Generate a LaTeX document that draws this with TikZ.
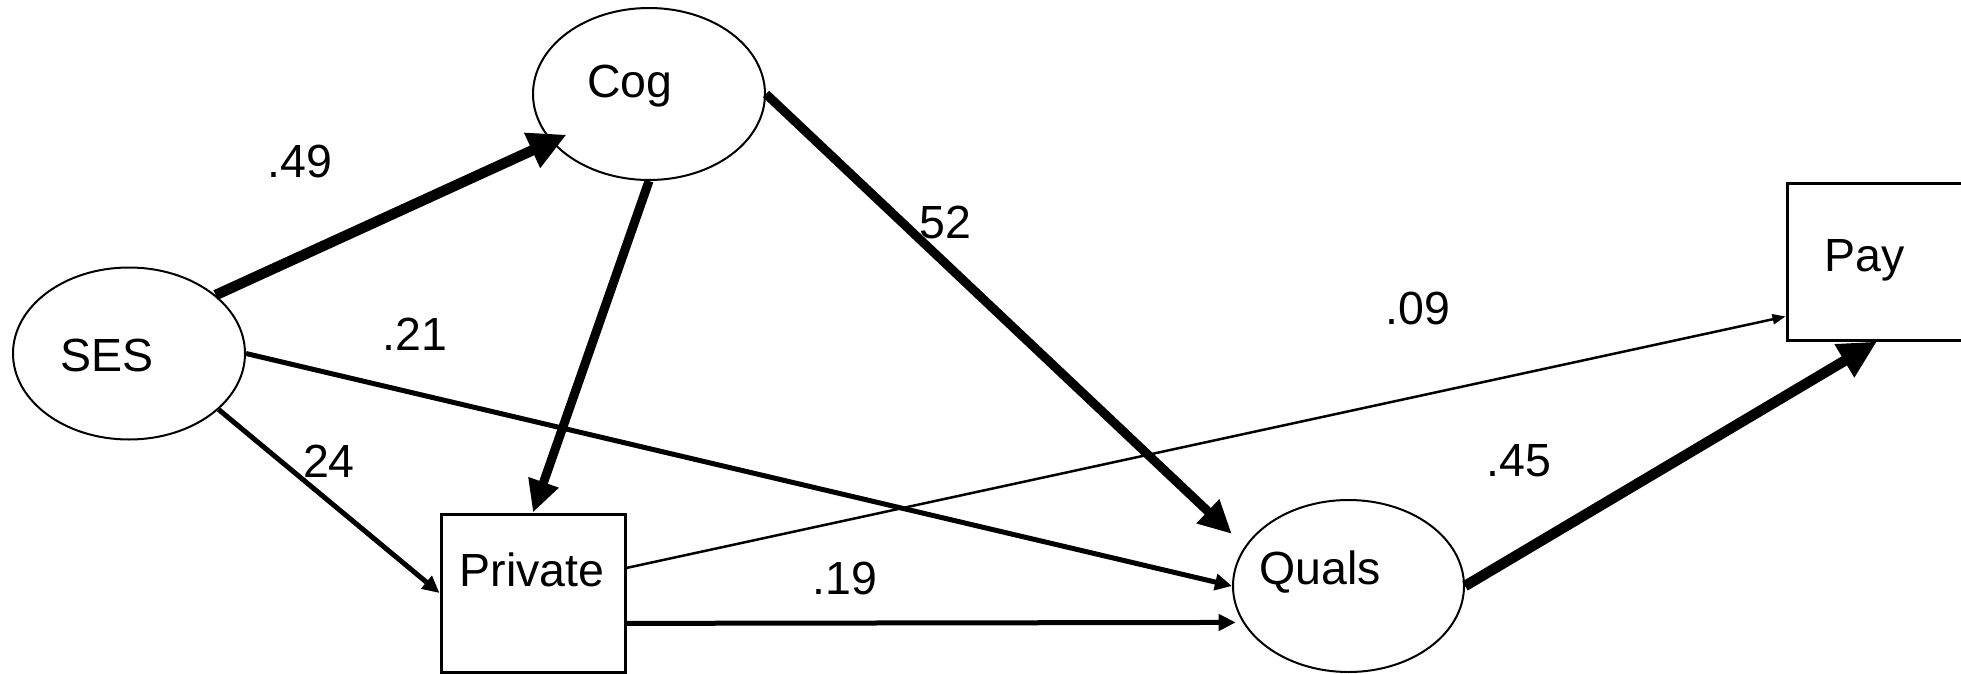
\documentclass[tikz,border=0pt]{standalone}
\usepackage{fontspec}
\setmainfont{Liberation Sans}
\usetikzlibrary{arrows.meta,shapes.geometric}
\begin{document}
\begin{tikzpicture}[x=1pt,y=-1pt,
  latent/.style={draw, line width=2pt, ellipse, minimum width=232pt, minimum height=172pt, inner sep=0pt},
  observed/.style={draw, line width=3pt, rectangle, inner sep=0pt},
  lbl/.style={font=\fontsize{46.5}{50}\selectfont, inner sep=0pt},
  strongarrow/.style={line width=10.5pt, -{Triangle[length=38pt,width=36pt]}},
  midarrow/.style={line width=5pt, -{Triangle[length=17pt,width=16pt]}},
  thinarrow/.style={line width=2.5pt, -{Triangle[length=13pt,width=10pt]}},
]
\useasboundingbox (0,0) rectangle (1961,674);
\clip (0,0) rectangle (1961,674);

% nodes
\node[latent] (ses) at (129,353.5) {};
\node[latent] (cog) at (649,94) {};
\node[latent, minimum width=231pt] (quals) at (1348.5,586) {};
\node[observed, minimum width=184pt, minimum height=158pt] (priv) at (533,593) {};
\node[observed, minimum width=180pt, minimum height=157pt] (pay) at (1877,261.5) {};

% node texts
\node[lbl, anchor=base] (sest) at (107,371) {SES};
\node[lbl, anchor=base] (cogt) at (630,98) {Cog};
\node[lbl, anchor=base] (privt) at (532,586) {Private};
\node[lbl, anchor=base] (qualst) at (1320,584) {Quals};
\node[lbl, anchor=base] (payt) at (1865,271) {Pay};

% connectors
\draw[strongarrow, shorten >=-17pt] (ses.34) -- (cog.206);
\draw[strongarrow, line width=9pt, -{Triangle[length=32pt,width=30pt]}] (cog.south) -- (priv.north);
\draw[strongarrow, line width=9pt, -{Triangle[length=33pt,width=31pt]}, shorten >=18pt] (cog.east) -- (quals.159.6);
\draw[midarrow] (ses.east) -- (quals.west);
\draw[midarrow] (ses.-32) -- (priv.west);
\draw[thinarrow] (priv.15.2) -- (pay.211.2);
\draw[midarrow, shorten >=7pt] (priv.-18.1) -- (quals.199.5);
\draw[strongarrow] (quals.east) -- (pay.south);

% coefficient labels
\node[lbl] (l49) at (300,161) {.49};
\node[lbl] (l21) at (415,334) {.21};
\node[lbl] (l24) at (329,461) {24};
\node[lbl] (l52) at (945,222) {52};
\node[lbl] (l09) at (1418,308) {.09};
\node[lbl] (l45) at (1519,461) {.45};
\node[lbl] (l19) at (845,578) {.19};
\end{tikzpicture}
\end{document}
